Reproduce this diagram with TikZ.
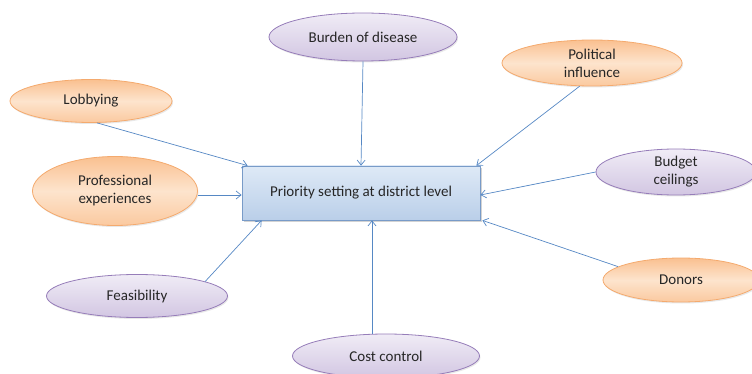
\documentclass[tikz,border=0pt]{standalone}
\usepackage{fontspec}
\setmainfont{Carlito}
\usetikzlibrary{shapes.geometric,arrows.meta,shadows}
\definecolor{arrblue}{RGB}{86,136,196}
\definecolor{orfillT}{RGB}{253,228,205}
\definecolor{orfillB}{RGB}{250,192,144}
\definecolor{ordraw}{RGB}{244,170,110}
\definecolor{pufillT}{RGB}{240,236,246}
\definecolor{pufillB}{RGB}{210,198,226}
\definecolor{pudraw}{RGB}{150,125,185}
\definecolor{bxfillT}{RGB}{222,233,246}
\definecolor{bxfillB}{RGB}{186,207,233}
\definecolor{bxdraw}{RGB}{120,155,200}
\tikzset{
  x=1pt,y=-1pt,
  lbl/.style={font=\fontsize{15}{18}\selectfont, text=black!85, align=center, inner sep=0pt},
  orell/.style={lbl, ellipse, draw=ordraw, line width=0.8pt, top color=orfillB, bottom color=orfillB!75!orfillT, middle color=orfillT,
    drop shadow={opacity=0.18, shadow xshift=1pt, shadow yshift=-1.5pt}},
  puell/.style={lbl, ellipse, draw=pudraw, line width=0.8pt, top color=pufillT, bottom color=pufillB,
    drop shadow={opacity=0.18, shadow xshift=1pt, shadow yshift=-1.5pt}},
  mainbox/.style={lbl, rectangle, draw=bxdraw, line width=0.8pt, top color=bxfillT, bottom color=bxfillB,
    minimum width=238pt, minimum height=54pt,
    drop shadow={opacity=0.35, shadow xshift=1.5pt, shadow yshift=-2pt}},
  arr/.style={draw=arrblue, line width=0.7pt, -{Straight Barb[length=5pt,width=8pt]}}
}
\begin{document}
\begin{tikzpicture}
\useasboundingbox (0,0) rectangle (752,374);
\node[mainbox] (box) at (361,193) {Priority setting at district level};
\node[puell, minimum width=188pt, minimum height=48pt] (bur) at (363,37) {Burden of disease};
\node[orell, minimum width=162pt, minimum height=43pt] (lob) at (91,101) {Lobbying};
\node[orell, minimum width=165pt, minimum height=69pt] (pro) at (115,191) {Professional\\experiences};
\node[orell, minimum width=180pt, minimum height=46pt] (pol) at (592,63) {Political\\influence};
\node[puell, minimum width=160pt, minimum height=46pt] (bud) at (676,172) {Budget\\ceilings};
\node[orell, minimum width=156pt, minimum height=44pt] (don) at (681,280) {Donors};
\node[puell, minimum width=181pt, minimum height=43pt] (fea) at (137,296) {Feasibility};
\node[puell, minimum width=187pt, minimum height=44pt] (cos) at (386,356) {Cost control};
\coordinate (cc) at ([xshift=11pt]box.south);
\coordinate (lt) at ([xshift=6pt]box.north west);
\coordinate (pt) at ([xshift=-4pt]box.north east);
\coordinate (ft) at ([xshift=20pt]box.south west);
\coordinate (ps) at ([yshift=-4pt]pro.east);
\draw[arr] (bur.south) -- (box.north);
\draw[arr] (lob.-75) -- (lt);
\draw[arr] (ps) -- (box.west |- ps);
\draw[arr] (pol.-118) -- (pt);
\draw[arr] (bud.west) -- ([yshift=-2pt]box.east);
\draw[arr] (don.168) -- ([xshift=2pt]box.south east);
\draw[arr] (fea.12) -- (ft);
\draw[arr] (cc |- cos.north) -- (cc);
\end{tikzpicture}
\end{document}
